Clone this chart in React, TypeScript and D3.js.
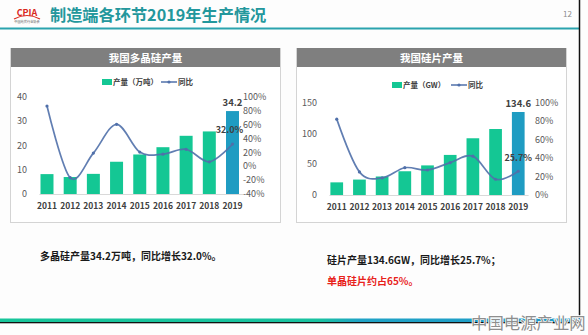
import React from 'react';
import * as d3 from 'd3';

const years = ['2011', '2012', '2013', '2014', '2015', '2016', '2017', '2018', '2019'];
const polyOutput = [8.2, 7.0, 8.3, 13.3, 16.3, 19.3, 24.0, 25.8, 34.2];
const polyYoy = [87, -16.5, 19, 60.5, 20.5, 17.5, 24.5, 6.5, 32.0];
const waferOutput = [20.5, 25, 30, 38.5, 48, 65, 92, 107, 134.6];
const waferYoy = [82, 25, 18.5, 29.5, 27, 35, 42, 17, 25.7];

const polyLeftTicks = [0, 10, 20, 30, 40];
const polyRightTicks = [-40, -20, 0, 20, 40, 60, 80, 100];
const waferLeftTicks = [0, 50, 100, 150];
const waferRightTicks = [0, 20, 40, 60, 80, 100];

const FONT = '"Noto Sans CJK SC", "Noto Sans", sans-serif';
const GREEN = '#14c794';
const BLUE_BAR = '#1f9cc2';
const LINE = '#5070aa';

type PanelProps = {
  x0: number; x1: number; title: string; legendLabel: string;
  values: number[]; yoy: number[]; leftTicks: number[]; rightTicks: number[];
  leftDomain: [number, number]; rightDomain: [number, number];
  plotX: [number, number]; plotY: [number, number];
  leftLabelX: number; rightLabelX: number; legendX: number; legendY: number;
  valueLabel: string; yoyLabel: string; lineLabelDy: number; lineLabelDx: number;
};

function Panel(p: PanelProps) {
  const xs = d3.scaleBand<string>().domain(years).range(p.plotX).paddingInner(0.44).paddingOuter(0.22);
  const yl = d3.scaleLinear().domain(p.leftDomain).range(p.plotY);
  const yr = d3.scaleLinear().domain(p.rightDomain).range(p.plotY);
  const cx = (y: string) => (xs(y) as number) + xs.bandwidth() / 2;
  const line = d3.line<number>().x((_, i) => cx(years[i])).y(v => yr(v)).curve(d3.curveCardinal.tension(0));
  const last = years.length - 1;
  const legendTextW = p.legendLabel.length > 5 ? 46 : 43;
  return (
    <g>
      <rect x={p.x0 + 0.5} y={48.5} width={p.x1 - p.x0 - 1} height={174} fill="#fff" stroke="#d4d4d4" />
      <rect x={p.x0 + 1} y={48} width={p.x1 - p.x0 - 2} height={19} fill="#7f7f7f" />
      <text x={(p.x0 + p.x1) / 2} y={61.5} textAnchor="middle" fill="#fff" fontSize={10.5} fontWeight="bold" fontFamily={FONT}>{p.title}</text>
      {/* legend */}
      <rect x={p.legendX} y={p.legendY - 3} width={10} height={6} fill={GREEN} />
      <text x={p.legendX + 11} y={p.legendY + 2.8} fontSize={7.5} fill="#404040" fontWeight="bold" fontFamily={FONT}>{p.legendLabel}</text>
      <line x1={p.legendX + legendTextW + 13} x2={p.legendX + legendTextW + 29} y1={p.legendY} y2={p.legendY} stroke={LINE} strokeWidth={1.5} />
      <circle cx={p.legendX + legendTextW + 21} cy={p.legendY} r={1.6} fill={LINE} />
      <text x={p.legendX + legendTextW + 30} y={p.legendY + 2.8} fontSize={7.5} fill="#404040" fontWeight="bold" fontFamily={FONT}>同比</text>
      {/* axes labels */}
      {p.leftTicks.map(t => (
        <text key={'l' + t} x={p.leftLabelX} y={yl(t) + 3.2} textAnchor="end" fontSize={9} fill="#595959" fontFamily={FONT}>{t}</text>
      ))}
      {p.rightTicks.map(t => (
        <text key={'r' + t} x={p.rightLabelX} y={yr(t) + 3.2} textAnchor="start" fontSize={9} fill="#595959" fontFamily={FONT}>{t}%</text>
      ))}
      <line x1={p.plotX[0] + 4} x2={p.plotX[1] - 1} y1={p.plotY[0] + 0.5} y2={p.plotY[0] + 0.5} stroke="#d9d9d9" />
      {/* bars */}
      {p.values.map((v, i) => (
        <rect key={years[i]} x={xs(years[i])} y={yl(v)} width={xs.bandwidth()} height={yl(0) - yl(v)} fill={i === last ? BLUE_BAR : GREEN} />
      ))}
      {years.map(y => (
        <text key={'x' + y} x={cx(y)} y={p.plotY[0] + 15} textAnchor="middle" fontSize={8.5} fontWeight="bold" fill="#404040" fontFamily={FONT}>{y}</text>
      ))}
      {/* line */}
      <path d={line(p.yoy) || ''} fill="none" stroke={LINE} strokeWidth={1.7} strokeOpacity={0.9} />
      {p.yoy.map((v, i) => (
        <circle key={'c' + i} cx={cx(years[i])} cy={yr(v)} r={1.6} fill={LINE} />
      ))}
      <text x={cx(years[last])} y={yl(p.values[last]) - 5} textAnchor="middle" fontSize={9.5} fontWeight="bold" fill="#404040" fontFamily={FONT}>{p.valueLabel}</text>
      <text x={cx(years[last]) + p.lineLabelDx} y={yr(p.yoy[last]) + p.lineLabelDy} textAnchor="middle" fontSize={9} fontWeight="bold" fill="#404040" fontFamily={FONT}>{p.yoyLabel}</text>
    </g>
  );
}

export default function App() {
  return (
    <svg width={588} height={335} style={{ position: 'absolute', left: 0, top: 0, background: '#fdfdfd' }} fontFamily={FONT}>
      <defs>
        <linearGradient id="bottomGrad" x1="0" x2="580" y1="0" y2="0" gradientUnits="userSpaceOnUse">
          <stop offset="0" stopColor="#17c59a" />
          <stop offset="0.55" stopColor="#19c2a0" />
          <stop offset="0.62" stopColor="#1fa2c6" />
          <stop offset="1" stopColor="#1f9bc8" />
        </linearGradient>
      </defs>
      <rect x={0} y={0} width={588} height={335} fill="#fdfdfd" />
      {/* logo */}
      <text x={27} y={16} textAnchor="middle" fontSize={9} fontWeight="bold" fill="#d9261c" fontFamily={FONT}>CPIA</text>
      <path d="M14 19 Q27 12 40 19" fill="none" stroke="#d9261c" strokeWidth={1.2} />
      <text x={27} y={22.5} textAnchor="middle" fontSize={3.2} fill="#555" fontFamily={FONT}>中国光伏行业协会</text>
      {/* title */}
      <text x={50} y={20.5} fontSize={16.2} fontWeight="bold" fill="#23979c" fontFamily={FONT}>制造端各环节2019年生产情况</text>
      <text x={563} y={17} fontSize={8} fill="#8c8c8c" fontFamily={FONT}>12</text>
      <rect x={0} y={27.5} width={580} height={2} fill="#2aa3ae" />
      <line x1={579.5} x2={579.5} y1={0} y2={322} stroke="#111" strokeWidth={1.5} />

      <Panel x0={10} x1={281} title="我国多晶硅产量" legendLabel="产量（万吨）"
        values={polyOutput} yoy={polyYoy} leftTicks={polyLeftTicks} rightTicks={polyRightTicks}
        leftDomain={[0, 40]} rightDomain={[-40, 100]} plotX={[35.4, 244.1]} plotY={[194, 97]}
        leftLabelX={27} rightLabelX={243} legendX={102} legendY={82}
        valueLabel="34.2" yoyLabel="32.0%" lineLabelDy={-11} lineLabelDx={-3} />
      <Panel x0={296} x1={567} title="我国硅片产量" legendLabel="产量（GW）"
        values={waferOutput} yoy={waferYoy} leftTicks={waferLeftTicks} rightTicks={waferRightTicks}
        leftDomain={[0, 150]} rightDomain={[0, 100]} plotX={[325.4, 529.6]} plotY={[195, 102.5]}
        leftLabelX={317} rightLabelX={535} legendX={392} legendY={85}
        valueLabel="134.6" yoyLabel="25.7%" lineLabelDy={-10} lineLabelDx={0} />

      {/* notes */}
      <text x={40} y={260} fontSize={10} fontWeight="bold" fill="#1a1a1a" fontFamily={FONT}>多晶硅产量34.2万吨，同比增长32.0%。</text>
      <text x={327} y={264} fontSize={10} fontWeight="bold" fill="#1a1a1a" fontFamily={FONT}>硅片产量134.6GW，同比增长25.7%；</text>
      <text x={327} y={284.5} fontSize={10} fontWeight="bold" fill="#e8221b" fontFamily={FONT}>单晶硅片约占65%。</text>

      {/* bottom band */}
      <rect x={0} y={318.5} width={580} height={3.5} fill="url(#bottomGrad)" />
      <rect x={0} y={322} width={580} height={1.3} fill="#111" />
      <text x={471} y={329} fontSize={16.4} fill="#8e8e8e" stroke="#fff" strokeWidth={1.5} paintOrder="stroke" fontFamily={FONT}>中国电源产业网</text>
    </svg>
  );
}
